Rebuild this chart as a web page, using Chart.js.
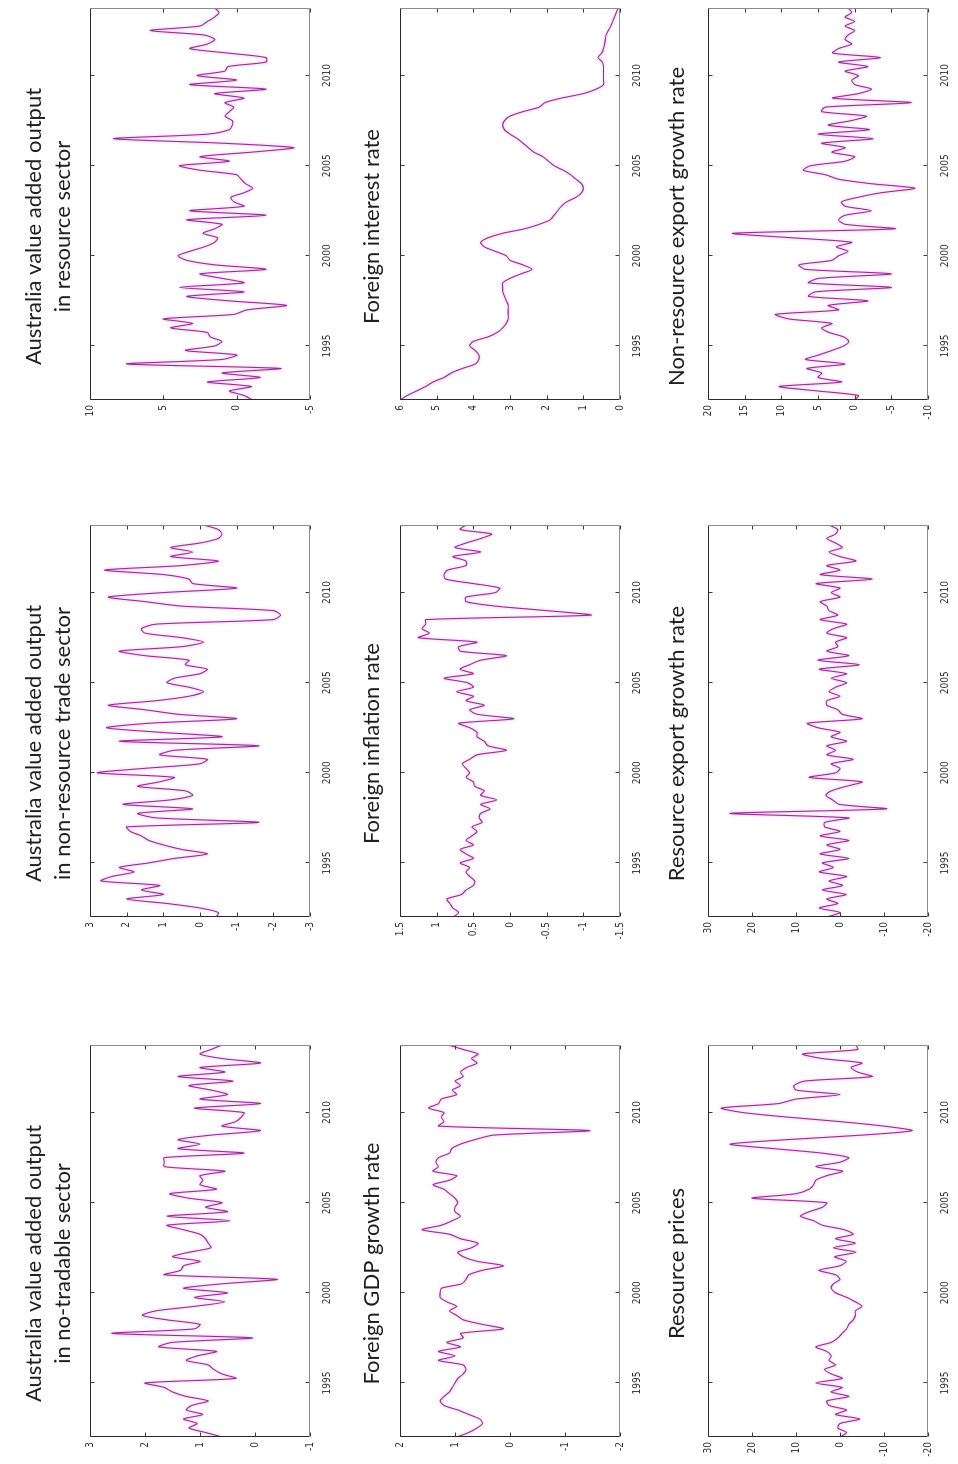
<!DOCTYPE html>
<html>
<head>
<meta charset="utf-8">
<script src="https://cdn.jsdelivr.net/npm/chart.js@4.4.1/dist/chart.umd.min.js"></script>
<style>
  html, body { margin: 0; padding: 0; background: #fff; }
  body { width: 958px; height: 1464px; overflow: hidden; position: relative; }
  /* the figure is laid out landscape and turned a quarter turn */
  #figure {
    position: absolute; left: 0; top: 0;
    width: 1464px; height: 958px;
    background: #fff;
    transform-origin: 0 0;
    transform: translateY(1464px) rotate(-90deg);
  }
  #figure canvas { position: absolute; }
</style>
</head>
<body>
<div id="figure"></div>
<script>
// ---- quarterly sample, 1992Q1 .. 2013Q4 ----
const START_YEAR = 1992;
const QUARTERS = 88;
const YEAR_TICKS = [1995, 2000, 2005, 2010];

// ---- series (one value per quarter) ----
const nonTradableOutput = [0.6,0.9,1.2,1.05,1.3,0.95,1.25,1.15,0.85,1.25,
  1.5,1.65,2.0,0.35,0.6,0.75,0.85,1.25,1.05,0.7,
  1.75,1.5,0.05,2.6,1.1,1.0,1.6,2.05,1.8,1.1,
  0.55,1.1,0.5,1.3,0.6,-0.4,1.65,1.35,1.3,1.0,
  1.5,1.2,0.8,0.85,0.9,1.0,1.3,1.6,0.45,1.6,
  0.5,0.9,0.6,1.2,1.55,0.7,1.0,0.95,1.0,0.55,
  1.65,1.65,1.65,0.2,1.4,1.0,1.4,0.8,-0.1,0.6,
  0.35,0.25,0.2,1.1,-0.1,1.0,0.5,0.8,1.2,0.4,
  1.4,0.55,1.0,-0.1,0.6,1.0,0.8,0.6];

const nonResourceTradeOutput = [-0.45,-0.5,0.0,0.9,2.0,1.0,1.6,1.1,2.7,2.4,
  1.8,2.2,1.4,0.7,-0.2,0.5,1.0,1.4,1.6,1.9,
  2.0,-1.6,1.2,1.7,0.2,2.1,0.8,0.2,0.4,1.7,
  1.1,0.7,2.8,1.5,0.0,-0.2,1.1,0.7,-1.6,2.2,
  -0.6,1.1,2.55,1.4,-1.0,0.6,1.5,2.5,1.2,0.3,
  -0.1,0.3,0.9,0.7,0.0,-0.2,0.4,0.3,1.5,2.2,
  0.5,-0.1,0.5,1.5,1.6,1.2,-2.0,-2.2,-2.0,0.5,
  1.5,2.5,1.0,-1.0,0.2,0.3,1.0,2.6,0.5,-0.5,
  0.8,0.2,0.8,0.0,-0.5,-0.6,-0.5,-0.1];

const resourceSectorOutput = [-1.1,-0.5,0.5,-1.0,2,-1.6,1,-3,7.5,1,
  0,3.5,1.5,1,1.8,2,4.5,3,5,0.2,
  -0.7,-3.4,0.5,3.4,-0.5,3.9,-0.5,1,2.5,-2,
  1.5,3.4,4,3.2,2.2,1.5,1.3,2.3,1.5,1.0,
  3.4,-2,3.2,-0.5,0.2,0.4,-0.5,-1.1,-0.6,-0.3,
  0,2.5,3.9,0.5,2.5,-1,-3.9,1,8.4,2,
  0.5,0.3,0.3,0.8,0.5,0.2,0.8,-0.5,1.5,-2,
  3.2,0,2.7,0.8,0.6,-2,-2,0.6,3.2,2,
  1.5,2.2,5.9,2.5,2.0,1.5,1.2,1.5];

const foreignGdpGrowth = [0.97,0.75,0.6,0.5,0.55,0.75,0.95,1.2,1.27,1.2,
  1.1,1.05,1.0,0.95,0.85,0.8,0.85,1.3,1.0,1.3,
  0.9,1.15,0.85,0.9,0.12,0.5,0.85,0.97,1.1,0.97,
  1.15,1.27,1.27,1.25,0.88,0.8,0.75,0.5,0.12,0.6,
  0.85,0.95,0.7,0.58,0.9,1.1,1.6,1.25,1.05,0.9,
  1.0,1.0,0.95,1.0,1.1,1.2,1.4,1.1,0.97,1.4,
  1.3,1.35,1.3,1.1,1.06,0.9,0.64,0.3,-1.45,1.3,
  1.2,1.25,1.2,1.48,1.3,1.25,0.97,1.05,0.9,1.0,
  0.85,0.9,0.79,0.6,0.7,0.58,0.85,1.12];

const foreignInflation = [0.77,0.7,0.78,0.82,0.86,0.66,0.6,0.5,0.48,0.55,
  0.6,0.55,0.68,0.5,0.6,0.68,0.5,0.6,0.52,0.45,
  0.52,0.38,0.42,0.4,0.27,0.4,0.18,0.4,0.35,0.48,
  0.5,0.6,0.55,0.6,0.65,0.55,0.45,0.05,0.3,0.35,
  0.45,0.45,0.55,0.7,-0.05,0.45,0.55,0.35,0.6,0.5,
  0.73,0.5,0.58,0.9,0.5,0.68,0.55,0.4,0.05,0.68,
  0.7,0.45,1.25,1.1,1.2,1.15,1.15,-1.1,-0.5,0.2,
  0.6,0.6,0.2,0.14,0.5,0.88,0.9,0.85,0.6,0.6,
  0.78,0.4,0.75,0.6,0.4,0.25,0.68,0.6];

const foreignInterestRate = [6.0,5.8,5.55,5.3,5.1,4.8,4.6,4.3,3.95,3.85,
  3.85,3.95,4.1,4.0,3.6,3.35,3.2,3.1,3.05,3.05,
  3.05,3.05,3.1,3.15,3.2,3.2,3.2,3.0,2.7,2.4,
  2.65,3.0,3.1,3.4,3.7,3.8,3.6,3.2,2.6,2.2,
  1.9,1.8,1.7,1.6,1.45,1.2,1.05,1.0,1.05,1.2,
  1.35,1.55,1.8,1.95,2.1,2.35,2.5,2.65,2.8,3.0,
  3.15,3.2,3.15,3.0,2.65,2.2,2.05,1.6,1.0,0.65,
  0.45,0.45,0.45,0.45,0.45,0.48,0.6,0.5,0.45,0.42,
  0.4,0.38,0.32,0.25,0.2,0.15,0.1,0.05];

const resourcePrices = [0,-1.5,0.5,0,-4.5,1,-1.5,2.5,3,-2,
  2,-0.5,5.5,-0.5,2,3.5,1,2.5,2,3,
  5.5,2,0.5,-0.5,-1.5,-2,-3,-3.5,-3.5,-5,
  -3.5,-1.5,1,2,1.5,0,1,4.8,0,-1.4,
  1.2,-3.6,1.5,-3.5,1,-3,-1,4,6,9,
  7,4,3,20,10,7,6,5.5,3,-0.6,
  5.5,0,-2,4,15,25,12,-5,-16.4,-10,
  0,12,22,27,14,10,0,10,10.5,8,
  -7.3,-4,-2.5,-5,4,8.5,-4,-3.6];

const resourceExportGrowth = [3,0,4.7,0.5,3,-1.4,4,-0.6,2.5,-1.5,
  4.7,1.5,4,-2,4.5,0,3,-2,4.5,0,
  3.5,3.5,-2,25,-10.5,0.2,1.7,3.2,2,-1.4,
  -5,7,1,0,2,-3,3,1,3,-1.5,
  2,0,5,7.4,-5,-0.5,0.5,3,3,0,
  2.5,1,-1.5,2,-1.5,4.7,-4.4,5,-2,3,
  0.5,1,-1.5,3,1.5,-1.5,4.5,0.5,2.5,3,
  4.5,0,2,0,5.4,-7.3,4.5,0,3,-3.6,
  0,2.5,-0.5,1,3,1,0.5,2.5];

const nonResourceExportGrowth = [0,-0.5,5,10.3,1.8,5,4.5,6.5,1.3,6.7,
  4.9,3.1,1.5,0.8,1.5,3.5,4.5,3.1,9.0,10.8,
  2.2,3.6,-1.8,6.3,5.4,-5,6.3,4.9,-5,6.7,
  7.6,3.1,2.2,0.9,2.5,0.4,8.5,16.6,-5.5,1.3,
  2.2,1.3,-2.3,1.3,1.8,-0.5,-3.6,-8.2,-2.3,2.2,
  4.0,7.0,6.0,1.3,0.0,3.1,1.3,4.5,-2.5,5.0,
  -2,3.6,0.5,-1.6,4.5,4.0,-7.7,3.0,-0.5,-2.3,
  0.0,0.4,-0.5,1.3,-1.8,2.2,-3.5,3.0,2.2,0.4,
  1.3,0.9,0.0,1.3,0.0,1.3,0.4,0.9];

// ---- panel titles ----
const TITLE_NON_TRADABLE = ['Australia value added output', 'in no-tradable sector'];
const TITLE_NON_RESOURCE_TRADE = ['Australia value added output', 'in non-resource trade sector'];
const TITLE_RESOURCE_SECTOR = ['Australia value added output', 'in resource sector'];
const TITLE_GDP = 'Foreign GDP growth rate';
const TITLE_INFLATION = 'Foreign inflation rate';
const TITLE_INTEREST = 'Foreign interest rate';
const TITLE_PRICES = 'Resource prices';
const TITLE_RES_EXPORT = 'Resource export growth rate';
const TITLE_NONRES_EXPORT = 'Non-resource export growth rate';

// ---- value-axis ranges [min, max, step] ----
const RANGE_NON_TRADABLE = [-1, 3, 1];
const RANGE_NON_RESOURCE_TRADE = [-3, 3, 1];
const RANGE_RESOURCE_SECTOR = [-5, 10, 5];
const RANGE_GDP = [-2, 2, 1];
const RANGE_INFLATION = [-1.5, 1.5, 0.5];
const RANGE_INTEREST = [0, 6, 1];
const RANGE_PRICES = [-20, 30, 10];
const RANGE_RES_EXPORT = [-20, 30, 10];
const RANGE_NONRES_EXPORT = [-10, 20, 5];

// ---- layout of the landscape figure ----
const COL_LEFT = [27, 547, 1064];
const ROW_TOP = [90, 400, 708];
const PLOT_W = 392, PLOT_H = 220;
const Y_AXIS_W = 45, X_AXIS_H = 32, RIGHT_PAD = 8;
const TITLE_LINE_H = 29;
const TITLE_PAD = [{ top: 4, bottom: 13 }, { top: 4, bottom: 14 }, { top: 4, bottom: 17 }];
const TITLE_FONT = { family: 'Lato, "Open Sans", sans-serif', size: 22, lineHeight: TITLE_LINE_H + 'px', weight: 'normal' };
const TICK_FONT = { family: '"Liberation Sans Narrow", "DejaVu Sans Condensed", "Liberation Sans", sans-serif', size: 10 };
const LINE_COLOR = '#93318f';

const panels = [
  { row: 0, col: 0, title: TITLE_NON_TRADABLE, values: nonTradableOutput, range: RANGE_NON_TRADABLE },
  { row: 0, col: 1, title: TITLE_NON_RESOURCE_TRADE, values: nonResourceTradeOutput, range: RANGE_NON_RESOURCE_TRADE },
  { row: 0, col: 2, title: TITLE_RESOURCE_SECTOR, values: resourceSectorOutput, range: RANGE_RESOURCE_SECTOR },
  { row: 1, col: 0, title: TITLE_GDP, values: foreignGdpGrowth, range: RANGE_GDP },
  { row: 1, col: 1, title: TITLE_INFLATION, values: foreignInflation, range: RANGE_INFLATION },
  { row: 1, col: 2, title: TITLE_INTEREST, values: foreignInterestRate, range: RANGE_INTEREST },
  { row: 2, col: 0, title: TITLE_PRICES, values: resourcePrices, range: RANGE_PRICES },
  { row: 2, col: 1, title: TITLE_RES_EXPORT, values: resourceExportGrowth, range: RANGE_RES_EXPORT },
  { row: 2, col: 2, title: TITLE_NONRES_EXPORT, values: nonResourceExportGrowth, range: RANGE_NONRES_EXPORT },
];

const quarterDates = Array.from({ length: QUARTERS }, (_, i) => START_YEAR + i / 4);

// box round the plot with inward tick marks on all four sides; soft halo on the trace
const frameAndTicks = {
  id: 'frameAndTicks',
  beforeDatasetsDraw(chart) {
    const ctx = chart.ctx;
    ctx.save();
    ctx.shadowColor = 'rgba(236,140,234,0.95)';
    ctx.shadowBlur = 3;
  },
  afterDatasetsDraw(chart) {
    chart.ctx.restore();
  },
  afterDraw(chart) {
    const { ctx, chartArea: a, scales: { x, y } } = chart;
    const L = Math.round(a.left) + 0.5, R = Math.round(a.right) - 0.5;
    const T = Math.round(a.top) + 0.5, B = Math.round(a.bottom) - 0.5;
    const len = 4;
    ctx.save();
    ctx.lineWidth = 1;
    ctx.strokeStyle = '#3a3a3a';
    ctx.beginPath();
    x.ticks.forEach(t => {
      const p = Math.round(x.getPixelForValue(t.value)) + 0.5;
      ctx.moveTo(p, B); ctx.lineTo(p, B - len);
      ctx.moveTo(p, T); ctx.lineTo(p, T + len);
    });
    y.ticks.forEach(t => {
      const p = Math.round(y.getPixelForValue(t.value)) + 0.5;
      ctx.moveTo(L, p); ctx.lineTo(L + len, p);
      ctx.moveTo(R, p); ctx.lineTo(R - len, p);
    });
    ctx.stroke();
    ctx.strokeStyle = '#2a2a2a';
    ctx.beginPath();
    ctx.moveTo(L, B); ctx.lineTo(L, T); ctx.lineTo(R, T);
    ctx.stroke();
    ctx.strokeStyle = '#8c8c8c';
    ctx.beginPath();
    ctx.moveTo(R, T); ctx.lineTo(R, B); ctx.lineTo(L, B);
    ctx.stroke();
    ctx.restore();
  }
};

const figure = document.getElementById('figure');

panels.forEach(p => {
  const pad = TITLE_PAD[p.row];
  const lines = Array.isArray(p.title) ? p.title.length : 1;
  const titleH = lines * TITLE_LINE_H + pad.top + pad.bottom;
  const canvas = document.createElement('canvas');
  const w = Y_AXIS_W + PLOT_W + RIGHT_PAD;
  const h = titleH + PLOT_H + X_AXIS_H;
  canvas.width = w; canvas.height = h;
  canvas.style.width = w + 'px'; canvas.style.height = h + 'px';
  canvas.style.left = (COL_LEFT[p.col] - Y_AXIS_W) + 'px';
  canvas.style.top = (ROW_TOP[p.row] - titleH) + 'px';
  figure.appendChild(canvas);

  const [yMin, yMax, yStep] = p.range;
  new Chart(canvas, {
    type: 'line',
    data: {
      datasets: [{
        data: p.values.map((v, i) => ({ x: quarterDates[i], y: v })),
        borderColor: LINE_COLOR,
        borderWidth: 1.1,
        pointRadius: 0,
        tension: 0.25,
        fill: false
      }]
    },
    options: {
      responsive: false,
      animation: false,
      devicePixelRatio: 1,
      layout: { padding: { left: 0, right: RIGHT_PAD, top: 0, bottom: 0 } },
      plugins: {
        legend: { display: false },
        tooltip: { enabled: false },
        title: {
          display: true,
          text: p.title,
          color: '#1e1e1e',
          font: TITLE_FONT,
          padding: pad
        }
      },
      scales: {
        x: {
          type: 'linear',
          min: quarterDates[0],
          max: quarterDates[QUARTERS - 1],
          afterBuildTicks: s => { s.ticks = YEAR_TICKS.map(v => ({ value: v })); },
          afterFit: s => { s.height = X_AXIS_H; },
          grid: { display: false, drawTicks: false },
          border: { display: false },
          ticks: { font: TICK_FONT, color: '#333', padding: 11, maxRotation: 0, callback: v => String(v) }
        },
        y: {
          type: 'linear',
          min: yMin, max: yMax,
          afterBuildTicks: s => {
            const t = [];
            for (let k = 0; yMin + k * yStep <= yMax + 1e-9; k++) t.push({ value: +(yMin + k * yStep).toFixed(4) });
            s.ticks = t;
          },
          afterFit: s => { s.width = Y_AXIS_W; },
          grid: { display: false, drawTicks: false },
          border: { display: false },
          ticks: { font: TICK_FONT, color: '#333', padding: 5, callback: v => String(v) }
        }
      }
    },
    plugins: [frameAndTicks]
  });
});
</script>
</body>
</html>
